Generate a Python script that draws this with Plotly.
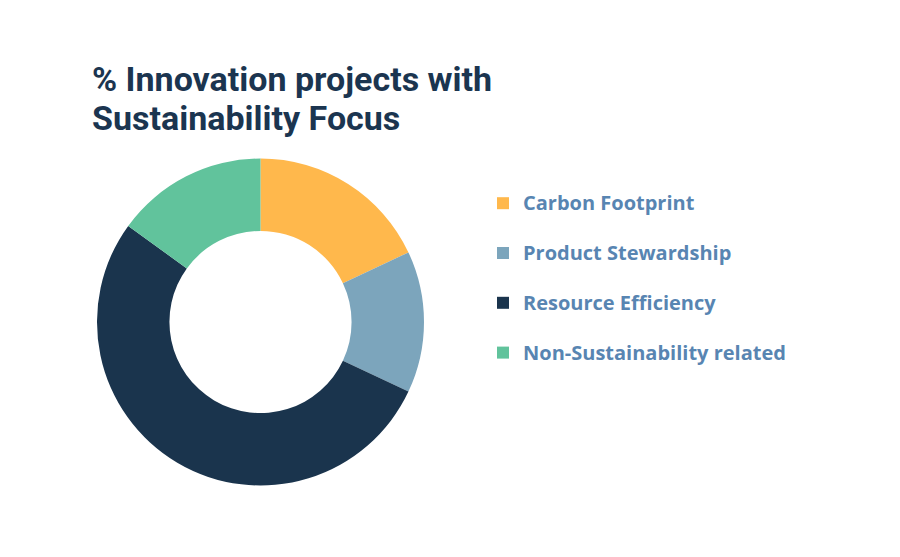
import plotly.graph_objects as go

# Data
categories = ["Carbon Footprint", "Product Stewardship", "Resource Efficiency", "Non-Sustainability related"]
values = [18, 14, 53, 15]
colors = ["#FFB84C", "#7CA5BC", "#1A344D", "#61C39C"]
title_lines = ["% Innovation projects with", "Sustainability Focus"]

W, H = 900, 557
# donut geometry (pixels)
cx, cy, r = 260.5, 322, 163.5

legend_labels = [f"<span style='font-size:20px'>{c}</span><br> " for c in categories]
title_text = "<br>".join(f"<span style='font-size:34px'>{t}</span>" for t in title_lines)

fig = go.Figure(go.Pie(
    labels=legend_labels,
    values=values,
    marker=dict(colors=colors, line=dict(width=0)),
    hole=0.557,
    sort=False,
    direction="clockwise",
    rotation=0,
    textinfo="none",
    hoverinfo="skip",
    domain=dict(x=[(cx - r) / W, (cx + r) / W], y=[1 - (cy + r) / H, 1 - (cy - r) / H]),
))

fig.update_layout(
    width=W, height=H,
    margin=dict(l=0, r=0, t=0, b=0),
    paper_bgcolor="white",
    title=dict(text=title_text, xref="container", yref="container",
               x=92 / W, xanchor="left", y=1 - 91 / H, yanchor="top",
               font=dict(family="Roboto", size=30, weight="bold", color="#1B3550")),
    showlegend=True,
    legend=dict(x=483 / W, xanchor="left", y=1 - 185 / H, yanchor="top",
                valign="top", bgcolor="rgba(0,0,0,0)", borderwidth=0,
                font=dict(family="Open Sans", size=18, weight="bold", color="#5885B2"),
                itemclick=False, itemdoubleclick=False),
)

fig.write_html("out.html", config={"displayModeBar": False},
               post_script="document.body.style.margin='0';")
